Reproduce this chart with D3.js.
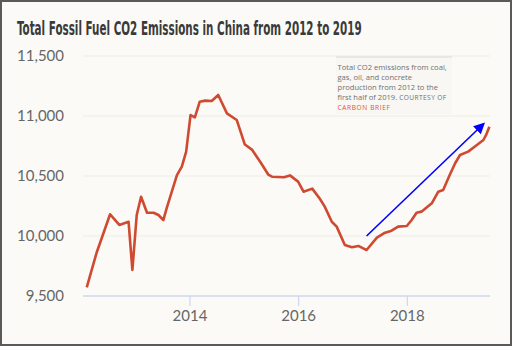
<!DOCTYPE html>
<html>
<head>
<meta charset="utf-8">
<script src="https://cdn.jsdelivr.net/npm/d3@7"></script>
<style>
  html, body { margin: 0; padding: 0; background: #fbfaf7; }
  svg { display: block; }
</style>
</head>
<body>
<div id="chart"></div>
<script>
// Data (decimal year, Mt CO2)
const years = [
  2012.10, 2012.28, 2012.53, 2012.70, 2012.87, 2012.94, 2013.02, 2013.10, 2013.21, 2013.33,
  2013.42, 2013.51, 2013.57, 2013.76, 2013.85, 2013.93, 2014.01, 2014.09, 2014.18, 2014.28,
  2014.40, 2014.52, 2014.68, 2014.86, 2015.01, 2015.14, 2015.31, 2015.44, 2015.51, 2015.73,
  2015.84, 2015.99, 2016.09, 2016.25, 2016.39, 2016.48, 2016.61, 2016.70, 2016.85, 2016.98,
  2017.10, 2017.25, 2017.44, 2017.59, 2017.71, 2017.83, 2017.99, 2018.08, 2018.17, 2018.26,
  2018.45, 2018.57, 2018.66, 2018.78, 2018.88, 2018.97, 2019.12, 2019.28, 2019.40, 2019.45,
  2019.51
];
const emissions = [
  9572, 9858, 10181, 10092, 10119, 9717, 10175, 10327, 10194, 10194,
  10175, 10133, 10231, 10508, 10578, 10703, 11008, 10989, 11119, 11128,
  11125, 11175, 11022, 10967, 10762, 10720, 10606, 10512, 10494, 10489,
  10505, 10453, 10369, 10395, 10310, 10245, 10119, 10078, 9925, 9906,
  9917, 9883, 9986, 10028, 10044, 10078, 10083, 10133, 10194, 10203,
  10272, 10369, 10383, 10508, 10606, 10675, 10703, 10758, 10800, 10842,
  10911
];
const yTicks = [9500, 10000, 10500, 11000, 11500];
const xTicks = [2014, 2016, 2018];
const arrowFrom = [2017.25, 10000];
const arrowTo = [2019.40, 10933];

const titleText = "Total Fossil Fuel CO2 Emissions in China from 2012 to 2019";
const noteLines = [
  "Total CO2 emissions from coal,",
  "gas, oil, and concrete",
  "production from 2012 to the",
  "first half of 2019."
];

const width = 512, height = 346;
const plot = { left: 83, right: 490 };

const svg = d3.select("#chart").append("svg")
  .attr("width", width)
  .attr("height", height);

// background + frame
svg.append("rect")
  .attr("x", 1).attr("y", 1)
  .attr("width", width - 2).attr("height", height - 2)
  .attr("fill", "#fbfaf7")
  .attr("stroke", "#5a5a5a")
  .attr("stroke-width", 2);

const x = d3.scaleLinear().domain([2012, 2020]).range([81.3, 516]);
const y = d3.scaleLinear().domain([9500, 11500]).range([296, 56]);

// title - tall condensed look: squeeze horizontally to ~345px wide
const titleG = svg.append("g").attr("transform", "translate(17,35)");
const title = titleG.append("text")
  .style("font-family", "'DejaVu Sans Condensed', sans-serif")
  .style("font-weight", "bold")
  .style("font-size", "19px")
  .style("fill", "#3a3a3a")
  .text(titleText);
const titleLen = title.node().getComputedTextLength();
if (titleLen > 0) {
  title.attr("transform", `scale(${(345 / titleLen).toFixed(3)},1)`);
}

// horizontal gridlines
svg.append("g")
  .selectAll("line")
  .data(yTicks.filter(d => d > 9500))
  .join("line")
  .attr("x1", plot.left).attr("x2", plot.right)
  .attr("y1", d => y(d)).attr("y2", d => y(d))
  .attr("stroke", "#eeede8")
  .attr("stroke-width", 1.2);

// y labels
svg.append("g")
  .selectAll("text")
  .data(yTicks)
  .join("text")
  .attr("x", 64)
  .attr("y", d => y(d) + 5)
  .attr("text-anchor", "end")
  .style("font-family", "Lato, sans-serif")
  .style("font-size", "15px")
  .style("fill", "#666")
  .text(d => d3.format(",")(d));

// bottom axis
const xAxis = svg.append("g");
xAxis.append("line")
  .attr("x1", plot.left).attr("x2", plot.right)
  .attr("y1", y(9500)).attr("y2", y(9500))
  .attr("stroke", "#cdd7f0")
  .attr("stroke-width", 1.5);
xAxis.selectAll(".tick")
  .data(xTicks)
  .join("line")
  .attr("class", "tick")
  .attr("x1", d => x(d)).attr("x2", d => x(d))
  .attr("y1", y(9500)).attr("y2", y(9500) + 10)
  .attr("stroke", "#cdd7f0")
  .attr("stroke-width", 1.2);
xAxis.selectAll(".tlabel")
  .data(xTicks)
  .join("text")
  .attr("class", "tlabel")
  .attr("x", d => x(d))
  .attr("y", 321)
  .attr("text-anchor", "middle")
  .style("font-family", "Lato, sans-serif")
  .style("font-size", "15px")
  .style("fill", "#666")
  .text(d => d);

// annotation box
const note = svg.append("g");
note.append("rect")
  .attr("x", 336).attr("y", 57)
  .attr("width", 116).attr("height", 57)
  .attr("fill", "#f8f7f3");
note.append("line")
  .attr("x1", 336).attr("x2", 452)
  .attr("y1", 57).attr("y2", 57)
  .attr("stroke", "#dddcd7")
  .attr("stroke-width", 1);
const noteText = note.append("text")
  .style("font-family", "'Open Sans', sans-serif")
  .style("font-size", "7.6px")
  .style("fill", "#707070");
noteLines.forEach((t, i) => {
  noteText.append("tspan")
    .attr("x", 337.5)
    .attr("y", 70 + i * 10)
    .text(t);
});
noteText.append("tspan")
  .style("font-size", "6.6px")
  .style("letter-spacing", "0.4px")
  .text(" COURTESY OF");
noteText.append("tspan")
  .attr("x", 337.5)
  .attr("y", 110)
  .style("font-size", "6.6px")
  .style("letter-spacing", "0.6px")
  .style("fill", "#e8503a")
  .text("CARBON BRIEF");

// emissions line
const series = years.map((d, i) => [d, emissions[i]]);
svg.append("path")
  .datum(series)
  .attr("d", d3.line().x(d => x(d[0])).y(d => y(d[1])))
  .attr("fill", "none")
  .attr("stroke", "#cf4a30")
  .attr("stroke-width", 2.6)
  .attr("stroke-linejoin", "round");

// blue arrow
svg.append("defs").append("marker")
  .attr("id", "arrowhead")
  .attr("viewBox", "0 0 10 10")
  .attr("refX", 8).attr("refY", 5)
  .attr("markerWidth", 7).attr("markerHeight", 7)
  .attr("orient", "auto")
  .append("path")
  .attr("d", "M0,0L10,5L0,10z")
  .attr("fill", "#0000ff");

svg.append("line")
  .attr("x1", x(arrowFrom[0])).attr("y1", y(arrowFrom[1]))
  .attr("x2", x(arrowTo[0])).attr("y2", y(arrowTo[1]))
  .attr("stroke", "#0000ff")
  .attr("stroke-width", 1.6)
  .attr("marker-end", "url(#arrowhead)");
</script>
</body>
</html>
